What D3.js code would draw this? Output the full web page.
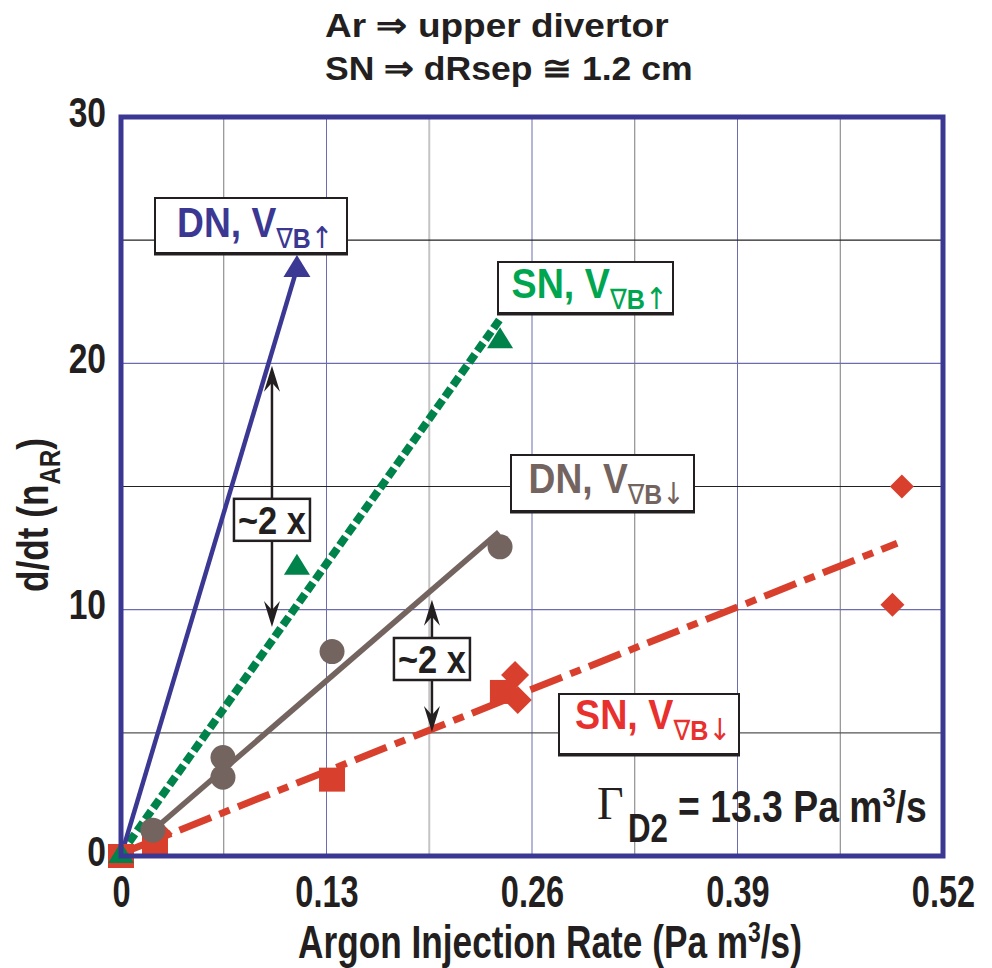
<!DOCTYPE html>
<html>
<head>
<meta charset="utf-8">
<script src="https://cdn.jsdelivr.net/npm/d3@7"></script>
<style>
  html, body { margin: 0; padding: 0; background: #fff; }
  svg { display: block; }
  text { font-family: "Liberation Sans", Arial, sans-serif; font-weight: bold; }
</style>
</head>
<body>
<svg id="chart" width="992" height="968"></svg>
<script>
// Argon exhaust rate vs. injection rate, upper divertor
const xTicks = [0, 0.13, 0.26, 0.39, 0.52];
const xTickLabels = ["0", "0.13", "0.26", "0.39", "0.52"];
const yTicks = [0, 10, 20, 30];
const xGrid = [0.065, 0.13, 0.195, 0.26, 0.325, 0.39, 0.455];
const yGrid = [5, 10, 15, 20, 25];

// DN, grad-B up (blue triangles, solid fit)
const dnUpX = [0, 0.1113];
const dnUpY = [0, 23.8];
const dnUpFitX = [0, 0.1120];
const dnUpFitY = [0, 24.0];

// SN, grad-B up (green triangles, dotted fit)
const snUpX = [0, 0.1113, 0.2398];
const snUpY = [0, 11.7, 20.9];
const snUpFitX = [0, 0.2398];
const snUpFitY = [0.1, 21.8];

// DN, grad-B down (grey circles, solid fit)
const dnDownX = [0.0202, 0.0645, 0.0645, 0.1335, 0.2398];
const dnDownY = [1.05, 4.0, 3.2, 8.3, 12.55];
const dnDownFitX = [0.015, 0.239];
const dnDownFitY = [0.75, 13.15];

// SN, grad-B down (red squares and diamonds, dash-dot fit)
const snDownSqX = [0, 0.0215, 0.1335, 0.2416];
const snDownSqY = [0, 0.5, 3.1, 6.66];
const snDownDiaX = [0.027, 0.2493, 0.251, 0.494, 0.488];
const snDownDiaY = [0.9, 7.35, 6.33, 15.0, 10.2];
const snDownDiaSize = [18, 28, 28, 24, 24];
const snDownFitX = [0, 0.491];
const snDownFitY = [0.1, 12.7];

// "~2 x" comparison arrows: [x, box top y, upper tip y, lower tip y]
const ratioArrows = [
  [0.0955, 14.5, 19.9, 9.3],
  [0.1967, 8.85, 10.4, 5.03]
];

const svg = d3.select("#chart");
const x = d3.scaleLinear().domain([0, 0.52]).range([121, 943]);
const y = d3.scaleLinear().domain([0, 30]).range([856, 117]);

const NAVY = "#3b3893";
const GREEN = "#00834a";
const GREEN_TXT = "#00a550";
const GREY = "#74645f";
const RED = "#d8402d";
const RED_TXT = "#e8302e";
const INK = "#231f20";

// Condensed bold text: glyphs are squeezed horizontally so the run spans `width` px.
function squeeze(text, px, py, width, rotate) {
  const len = text.node().getComputedTextLength();
  const sx = width / len;
  text.attr("x", null).attr("y", null)
    .attr("transform", `translate(${px},${py})${rotate ? ` rotate(${rotate})` : ""} scale(${sx},1)`);
  return text;
}

// grid lines
const xGridColor = ["#7a7a7a", "#6c6cb0", "#c4c4c4", "#6c6cb0", "#7a7a7a", "#6c6cb0", "#7a7a7a"];
svg.append("g").selectAll("line").data(xGrid).join("line")
  .attr("x1", d => x(d)).attr("x2", d => x(d))
  .attr("y1", y(0)).attr("y2", y(30))
  .attr("stroke", (d, i) => xGridColor[i])
  .attr("stroke-width", (d, i) => i === 2 ? 2 : 1);
const yGridColor = ["#555", "#6c6cb0", "#222", "#6c6cb0", "#222"];
svg.append("g").selectAll("line").data(yGrid).join("line")
  .attr("x1", x(0)).attr("x2", x(0.52))
  .attr("y1", d => y(d)).attr("y2", d => y(d))
  .attr("stroke", (d, i) => yGridColor[i])
  .attr("stroke-width", 1.2);

// axes (labels only, frame drawn separately)
const yAxis = svg.append("g").attr("transform", `translate(${x(0)},0)`)
  .call(d3.axisLeft(y).tickValues(yTicks).tickSize(0).tickFormat(d3.format("d")));
yAxis.select(".domain").remove();
yAxis.selectAll("text").attr("font-size", 42).attr("fill", INK).attr("dy", null)
  .each(function () {
    const t = d3.select(this);
    squeeze(t, -15, 9, this.getComputedTextLength() * 0.8);
  });

const xAxis = svg.append("g").attr("transform", `translate(0,${y(0)})`)
  .call(d3.axisBottom(x).tickValues(xTicks).tickSize(0).tickFormat((d, i) => xTickLabels[i]));
xAxis.select(".domain").remove();
xAxis.selectAll("text").attr("font-size", 44).attr("fill", INK).attr("dy", null)
  .each(function () {
    const t = d3.select(this);
    squeeze(t, 0, 51, this.getComputedTextLength() * 0.74);
  });

// fit lines
const line = d3.line().x(d => x(d[0])).y(d => y(d[1]));
const fit = (xs, ys) => xs.map((v, i) => [v, ys[i]]);

svg.append("path").datum(fit(snDownFitX, snDownFitY)).attr("d", line)
  .attr("fill", "none").attr("stroke", RED).attr("stroke-width", 7)
  .attr("stroke-dasharray", "34,9,11,9");
svg.append("path").datum(fit(dnDownFitX, dnDownFitY)).attr("d", line)
  .attr("fill", "none").attr("stroke", GREY).attr("stroke-width", 5.5);
svg.append("path").datum(fit(snUpFitX, snUpFitY)).attr("d", line)
  .attr("fill", "none").attr("stroke", GREEN).attr("stroke-width", 8)
  .attr("stroke-dasharray", "10,4");
svg.append("path").datum(fit(dnUpFitX, dnUpFitY)).attr("d", line)
  .attr("fill", "none").attr("stroke", NAVY).attr("stroke-width", 4.5);

// markers
svg.append("g").selectAll("rect").data(snDownSqX).join("rect")
  .attr("x", d => x(d) - 13).attr("y", (d, i) => y(snDownSqY[i]) - 12)
  .attr("width", 26).attr("height", 24).attr("fill", RED);
svg.append("g").selectAll("path").data(snDownDiaX).join("path")
  .attr("transform", (d, i) => `translate(${x(d)},${y(snDownDiaY[i])}) rotate(45)`)
  .attr("d", (d, i) => { const s = snDownDiaSize[i] / Math.SQRT2; return `M${-s/2},${-s/2}h${s}v${s}h${-s}Z`; })
  .attr("fill", RED);
svg.append("g").selectAll("circle").data(dnDownX).join("circle")
  .attr("cx", d => x(d)).attr("cy", (d, i) => y(dnDownY[i])).attr("r", 12.5)
  .attr("fill", GREY);
const tri = (w, h) => `M0,${-h*2/3}L${w/2},${h/3}L${-w/2},${h/3}Z`;
svg.append("g").selectAll("path").data(snUpX).join("path")
  .attr("transform", (d, i) => `translate(${x(d)},${y(snUpY[i])})`)
  .attr("d", tri(26, 21)).attr("fill", GREEN);
svg.append("g").selectAll("path").data(dnUpX.slice(1)).join("path")
  .attr("transform", (d, i) => `translate(${x(d)},${y(dnUpY[i + 1])})`)
  .attr("d", tri(27, 22)).attr("fill", NAVY);

// plot frame
svg.append("rect").attr("x", x(0)).attr("y", y(30))
  .attr("width", x(0.52) - x(0)).attr("height", y(0) - y(30))
  .attr("fill", "none").attr("stroke", NAVY).attr("stroke-width", 5);

// series label boxes
function labelBox(bx, by, bw, bh, base, main, arrow, color) {
  const g = svg.append("g");
  g.append("rect").attr("x", bx).attr("y", by).attr("width", bw).attr("height", bh)
    .attr("fill", "#fff").attr("stroke", INK).attr("stroke-width", 2);
  g.append("line").attr("x1", bx - 1).attr("x2", bx + bw + 1).attr("y1", by + bh + 1).attr("y2", by + bh + 1)
    .attr("stroke", INK).attr("stroke-width", 3);
  const t = g.append("text").attr("text-anchor", "middle").attr("fill", color).attr("font-size", 42);
  t.append("tspan").text(main);
  t.append("tspan").attr("dy", 11).attr("font-size", 28).style("font-weight", "normal")
    .style("font-family", "'DejaVu Sans', sans-serif").text("\u2207");
  t.append("tspan").attr("font-size", 28).text("B");
  t.append("tspan").style("font-weight", "normal").attr("font-size", 30)
    .style("font-family", "'DejaVu Sans', sans-serif").text(arrow);
  squeeze(t, bx + bw / 2 + 4, by + base, 156);
}
labelBox(155, 198, 192, 55, 39, "DN, V", "\u2191", NAVY);
labelBox(498, 262, 175, 51, 36, "SN, V", "\u2191", GREEN_TXT);
labelBox(511, 455, 183, 56, 38, "DN, V", "\u2193", GREY);
labelBox(559, 694, 180, 60, 35, "SN, V", "\u2193", RED_TXT);

// "~2 x" arrows
const head = (tx, ty, dir) => {
  // dir = -1 pointing up, +1 pointing down
  const L = 26, W = 8;
  return `M${tx},${ty}L${tx + W},${ty - dir * L}L${tx},${ty - dir * (L - 9)}L${tx - W},${ty - dir * L}Z`;
};
ratioArrows.forEach(([ax, top, up, dn]) => {
  const px = x(ax), bw = 76, bh = 42, by = y(top);
  svg.append("line").attr("x1", px).attr("x2", px).attr("y1", by).attr("y2", y(up) + 15)
    .attr("stroke", INK).attr("stroke-width", 2.5);
  svg.append("line").attr("x1", px).attr("x2", px).attr("y1", by + bh).attr("y2", y(dn) - 15)
    .attr("stroke", INK).attr("stroke-width", 2.5);
  svg.append("path").attr("d", head(px, y(up), -1)).attr("fill", INK);
  svg.append("path").attr("d", head(px, y(dn), 1)).attr("fill", INK);
  svg.append("rect").attr("x", px - bw / 2).attr("y", by).attr("width", bw).attr("height", bh)
    .attr("fill", "#fff").attr("stroke", INK).attr("stroke-width", 2.5);
  const t = svg.append("text").attr("text-anchor", "middle").attr("font-size", 38).attr("fill", INK).text("~2 x");
  squeeze(t, px, by + 35, 68);
});

// flow annotation
svg.append("text").attr("x", 597).attr("y", 819)
  .style("font-family", "'Liberation Serif', 'DejaVu Serif', serif").style("font-weight", "normal")
  .attr("font-size", 46).attr("fill", INK).text("\u0393");
squeeze(svg.append("text").attr("font-size", 40).attr("fill", INK).text("D2"), 628, 842, 40);
const gam = svg.append("text").attr("font-size", 44).attr("fill", INK);
gam.append("tspan").text("= 13.3 Pa m");
gam.append("tspan").attr("dy", -15).attr("font-size", 28).text("3");
gam.append("tspan").attr("dy", 15).text("/s");
squeeze(gam, 678, 822, 249);

// titles
squeeze(svg.append("text").attr("font-size", 34).attr("fill", INK)
  .text("Ar \u21D2 upper divertor"), 325, 37, 343);
squeeze(svg.append("text").attr("font-size", 34).attr("fill", INK)
  .text("SN \u21D2 dRsep \u2245 1.2 cm"), 325, 80, 367);

// axis titles
const xt = svg.append("text").attr("text-anchor", "middle").attr("font-size", 46).attr("fill", INK);
xt.append("tspan").text("Argon Injection Rate (Pa m");
xt.append("tspan").attr("dy", -16).attr("font-size", 30).text("3");
xt.append("tspan").attr("dy", 16).text("/s)");
squeeze(xt, 550, 958, 504);

const yt = svg.append("text").attr("text-anchor", "middle").attr("font-size", 44).attr("fill", INK);
yt.append("tspan").text("d/dt (n");
yt.append("tspan").attr("dy", 12).attr("font-size", 30).text("AR");
yt.append("tspan").attr("dy", -12).text(")");
squeeze(yt, 48, 515, 154, -90);
</script>
</body>
</html>
